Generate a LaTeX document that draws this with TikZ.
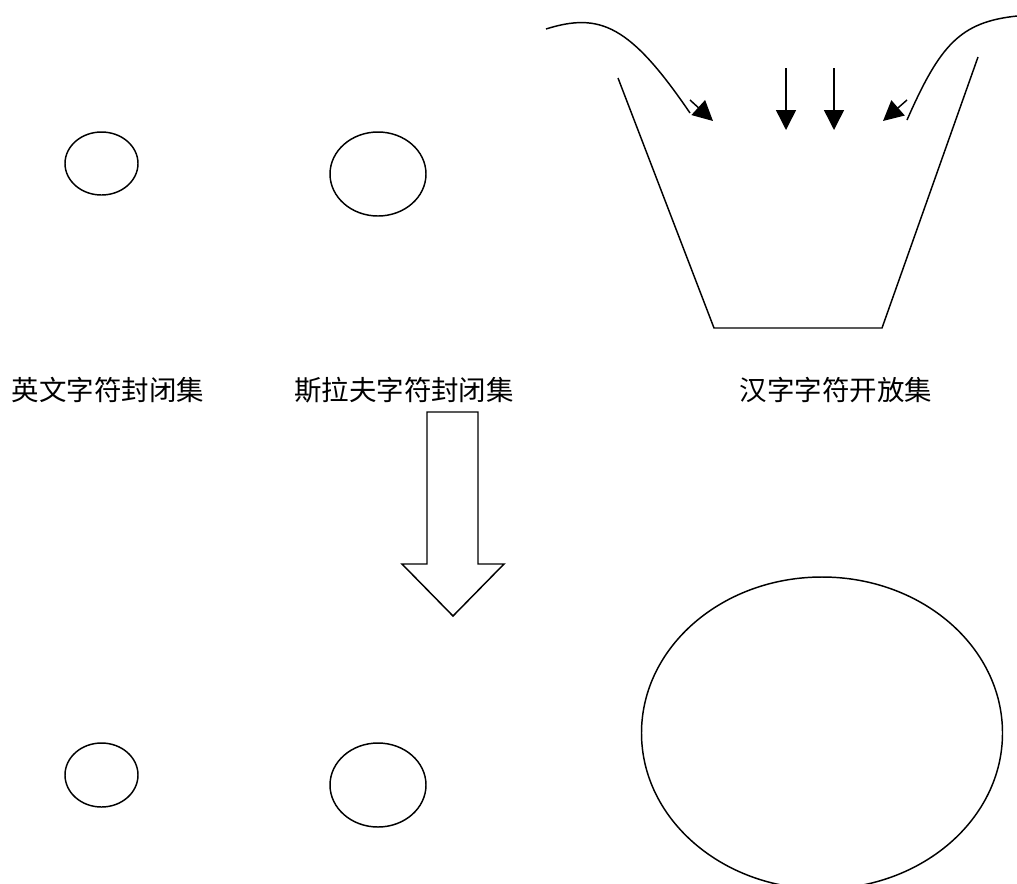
\documentclass[tikz,border=0pt]{standalone}
\usepackage{fontspec}
\newfontfamily\cjk{Noto Sans CJK SC}
\usetikzlibrary{arrows.meta}
\begin{document}
\begin{tikzpicture}[x=0.75pt,y=-0.75pt,
  ln/.style={line width=1.1pt,black},
  lbl/.style={font=\cjk\fontsize{20.6pt}{24pt}\selectfont,inner sep=0pt,anchor=center},
  tri/.style={ln,-{Triangle[length=15pt,width=15pt]}},
  blk/.style={ln,fill=white,line join=miter}]
\useasboundingbox (0,0) rectangle (1017,883);
\clip (0,0) rectangle (1017,883);
% top small sets
\draw[ln] (101.5,163.5) ellipse [x radius=36.5, y radius=31.5];
\draw[ln] (378,174) ellipse [x radius=48, y radius=42];
% labels
\node[lbl] (en) at (108,390) {英文字符封闭集};
\node[lbl] (sl) at (404,390) {斯拉夫字符封闭集};
\node[lbl] (hz) at (836,390) {汉字字符开放集};
% open vessel
\coordinate (tl) at (618,78);
\coordinate (bl) at (714,328);
\coordinate (br) at (882,328);
\coordinate (tr) at (978,57);
\draw[ln,line join=miter] (tl) -- (bl) -- (br) -- (tr);
% incoming curves
\draw[ln] (546,29) .. controls (600,12) and (630,25) .. (690,113);
\draw[ln] (1017,16) .. controls (960,22) and (940,45) .. (907,120);
\coordinate (la) at (690,100);
\coordinate (lt) at (713,121);
\coordinate (ra) at (907,100);
\coordinate (rt) at (883,121);
\draw[tri] (la) -- (lt);
\draw[tri] (ra) -- (rt);
\coordinate (v1s) at (786,68);
\coordinate (v1e) at (786,130);
\coordinate (v2s) at (834,68);
\coordinate (v2e) at (834,130);
\draw[tri] (v1s) -- (v1e);
\draw[tri] (v2s) -- (v2e);
% block arrow
\draw[blk] (427,412) -- (478,412) -- (478,564) -- (504,564) -- (453,616) -- (402,564) -- (427,564) -- cycle;
% bottom sets
\draw[ln] (101.5,775) ellipse [x radius=36.5, y radius=32];
\draw[ln] (378,785) ellipse [x radius=48, y radius=42];
\draw[ln] (822,733) ellipse [x radius=180.5, y radius=156];
\end{tikzpicture}
\end{document}
